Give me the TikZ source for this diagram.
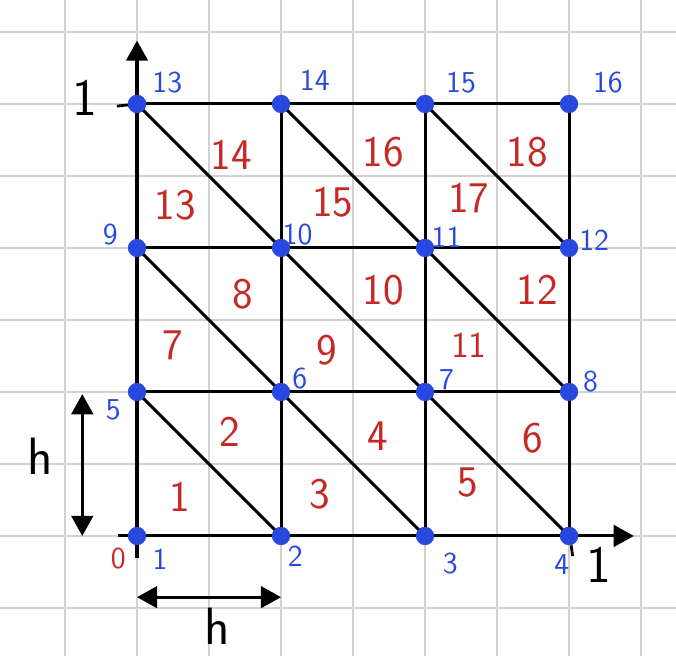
\documentclass[tikz,border=0pt]{standalone}
\usepackage{tikz}
\usetikzlibrary{arrows.meta,positioning}
\definecolor{ptblue}{RGB}{38,72,222}
\definecolor{elred}{RGB}{200,40,36}

\begin{document}
\begin{tikzpicture}[
  every node/.style={font=\sffamily},
  paper/.style={gray!35, line width=0.8pt},
  edge/.style={line width=1.2pt},
  vert/.style={circle, fill=ptblue, inner sep=0pt, minimum size=2.5mm},
  vlab/.style={text=ptblue, font=\sffamily\large},
  elab/.style={text=elred, font=\sffamily\LARGE},
  axis/.style={line width=1.2pt, -{Triangle[length=2.8mm,width=3mm]}},
  dim/.style={line width=1.2pt, {Triangle[length=2.8mm,width=3mm]}-{Triangle[length=2.8mm,width=3mm]}}
]
\useasboundingbox (-1.903,-1.667) rectangle (7.486,7.444);
% squared paper
\fill[white] (-1.903,-1.667) rectangle (7.486,7.444);
\draw[paper, step=1] (-1.903,-1.667) grid (7.486,7.444);
% mesh vertices
\node[vert] (v1) at (0,0) {};
\node[vert] (v2) at (2,0) {};
\node[vert] (v3) at (4,0) {};
\node[vert] (v4) at (6,0) {};
\node[vert] (v5) at (0,2) {};
\node[vert] (v6) at (2,2) {};
\node[vert] (v7) at (4,2) {};
\node[vert] (v8) at (6,2) {};
\node[vert] (v9) at (0,4) {};
\node[vert] (v10) at (2,4) {};
\node[vert] (v11) at (4,4) {};
\node[vert] (v12) at (6,4) {};
\node[vert] (v13) at (0,6) {};
\node[vert] (v14) at (2,6) {};
\node[vert] (v15) at (4,6) {};
\node[vert] (v16) at (6,6) {};
% axes
\coordinate (xs) at (-0.26,0);
\coordinate (xe) at (6.9,0);
\coordinate (ys) at (0,-0.3);
\coordinate (ye) at (0,6.88);
\draw[axis] (xs) -- (xe);
\draw[axis] (ys) -- (ye);
% mesh edges
\draw[edge] (v5.center) -- (v8.center);
\draw[edge] (v9.center) -- (v12.center);
\draw[edge] (v13.center) -- (v16.center);
\draw[edge] (v2.center) -- (v14.center);
\draw[edge] (v3.center) -- (v15.center);
\draw[edge] (v4.center) -- (v16.center);
\draw[edge] (v5.center) -- (v2.center);
\draw[edge] (v9.center) -- (v3.center);
\draw[edge] (v13.center) -- (v4.center);
\draw[edge] (v14.center) -- (v8.center);
\draw[edge] (v15.center) -- (v12.center);
\foreach \v in {1,...,16} {\node[vert] at (v\v) {};}
% vertex numbers
\node[vlab] (n1) at (0.32,-0.33) {1};
\node[vlab] (n2) at (2.2,-0.28) {2};
\node[vlab] (n3) at (4.35,-0.38) {3};
\node[vlab] (n4) at (5.9,-0.4) {4};
\node[vlab] (n5) at (-0.33,1.75) {5};
\node[vlab] (n6) at (2.26,2.19) {6};
\node[vlab] (n7) at (4.3,2.17) {7};
\node[vlab] (n8) at (6.3,2.14) {8};
\node[vlab] (n9) at (-0.37,4.18) {9};
\node[vlab] (n10) at (2.23,4.18) {10};
\node[vlab] (n11) at (4.3,4.15) {11};
\node[vlab] (n12) at (6.35,4.11) {12};
\node[vlab] (n13) at (0.42,6.3) {13};
\node[vlab] (n14) at (2.47,6.33) {14};
\node[vlab] (n15) at (4.5,6.3) {15};
\node[vlab] (n16) at (6.54,6.3) {16};
% element numbers
\node[elab] (e1) at (0.6,0.54) {1};
\node[elab] (e2) at (1.29,1.44) {2};
\node[elab] (e3) at (2.54,0.58) {3};
\node[elab] (e4) at (3.35,1.38) {4};
\node[elab] (e5) at (4.6,0.74) {5};
\node[elab] (e6) at (5.5,1.36) {6};
\node[elab] (e7) at (0.49,2.65) {7};
\node[elab] (e8) at (1.47,3.36) {8};
\node[elab] (e9) at (2.64,2.58) {9};
\node[elab] (e10) at (3.42,3.42) {10};
\node[elab, font=\sffamily\Large] (e11) at (4.61,2.65) {11};
\node[elab] (e12) at (5.56,3.42) {12};
\node[elab] (e13) at (0.53,4.6) {13};
\node[elab] (e14) at (1.31,5.29) {14};
\node[elab] (e15) at (2.72,4.63) {15};
\node[elab] (e16) at (3.42,5.33) {16};
\node[elab] (e17) at (4.61,4.69) {17};
\node[elab] (e18) at (5.42,5.33) {18};
% origin and axis ticks
\node[text=elred, font=\sffamily\large] (o) at (-0.26,-0.31) {0};
\coordinate (ty) at (-0.28,5.97);
\draw[line width=1.1pt] (ty) -- (v13.center);
\node[font=\sffamily\huge] (one-y) at (-0.72,6.08) {1};
\coordinate (tx) at (6.03,-0.13);
\coordinate (tx2) at (6.05,-0.28);
\draw[line width=1.1pt] (tx) -- (tx2);
\node[font=\sffamily\huge] (one-x) at (6.42,-0.4) {1};
\node[vert] at (v13) {};
\node[vert] at (v4) {};
% mesh size
\coordinate (hv1) at (-0.76,1.97);
\coordinate (hv2) at (-0.76,0);
\draw[dim] (hv1) -- (hv2);
\node[font=\sffamily\huge] (hv) at (-1.35,1.1) {h};
\coordinate (hh1) at (0,-0.85);
\coordinate (hh2) at (2,-0.85);
\draw[dim] (hh1) -- (hh2);
\node[font=\sffamily\huge] (hh) at (1.12,-1.25) {h};
\end{tikzpicture}
\end{document}
